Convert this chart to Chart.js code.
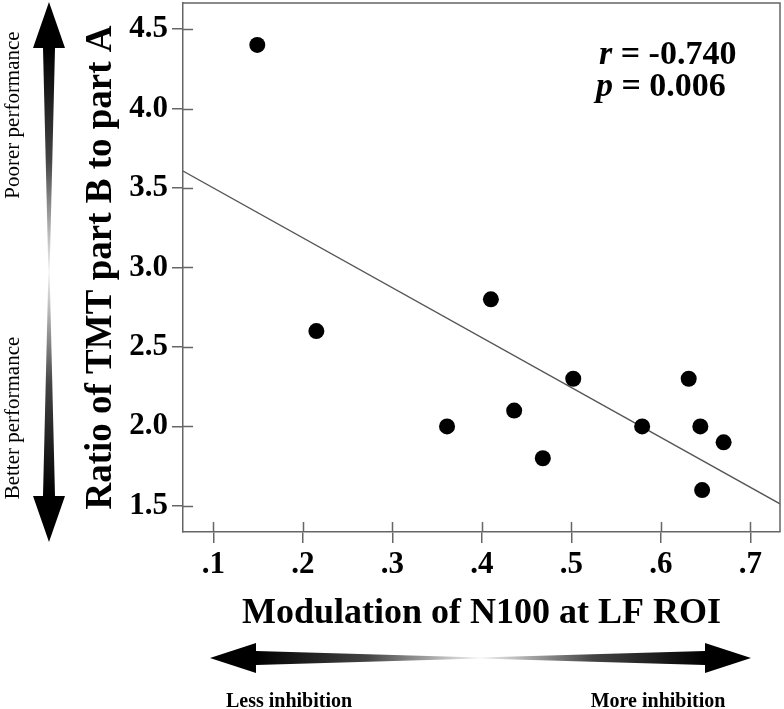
<!DOCTYPE html>
<html>
<head>
<meta charset="utf-8">
<script src="https://cdn.jsdelivr.net/npm/chart.js@4.4.0/dist/chart.umd.min.js"></script>
<style>
  html, body { margin: 0; padding: 0; background: #fff; }
  #wrap { width: 784px; height: 709px; }
</style>
</head>
<body>
<div id="wrap"><canvas id="chart" width="784" height="709"></canvas></div>
<script>
// values
const modulation = [0.149, 0.215, 0.361, 0.410, 0.436, 0.468, 0.502, 0.579, 0.631, 0.644, 0.646, 0.670];
const tmtRatio   = [4.40, 2.60, 2.00, 2.80, 2.10, 1.80, 2.30, 2.00, 2.30, 2.00, 1.60, 1.90];
const fitX = [0.066, 0.733];
const fitY = [3.607, 1.513];
const xTicks = [0.1, 0.2, 0.3, 0.4, 0.5, 0.6, 0.7];
const yTicks = [1.5, 2.0, 2.5, 3.0, 3.5, 4.0, 4.5];
const rValue = '-0.740';
const pValue = '0.006';

const serif = "'Liberation Serif', 'Times New Roman', serif";
const axisGrey = '#666';

// ticks in the original cross the axis line, so draw the inner half too
const innerTicks = {
  id: 'innerTicks',
  afterDraw(chart) {
    const {ctx, chartArea: a, scales: {x, y}} = chart;
    ctx.save();
    ctx.strokeStyle = axisGrey;
    ctx.lineWidth = 1.5;
    ctx.beginPath();
    xTicks.forEach(v => {
      const px = Math.round(x.getPixelForValue(v)) + 0.5;
      ctx.moveTo(px, a.bottom);
      ctx.lineTo(px, a.bottom - 10);
    });
    yTicks.forEach(v => {
      const py = Math.round(y.getPixelForValue(v)) + 0.5;
      ctx.moveTo(a.left, py);
      ctx.lineTo(a.left + 10, py);
    });
    // top and right frame
    ctx.moveTo(a.left, a.top);
    ctx.lineTo(a.right, a.top);
    ctx.lineTo(a.right, a.bottom);
    ctx.stroke();
    ctx.restore();
  }
};

function taper(ctx, pts, g) {
  ctx.fillStyle = g;
  ctx.beginPath();
  ctx.moveTo(pts[0][0], pts[0][1]);
  for (let i = 1; i < pts.length; i++) ctx.lineTo(pts[i][0], pts[i][1]);
  ctx.closePath();
  ctx.fill();
}

const extras = {
  id: 'extras',
  afterDraw(chart) {
    const ctx = chart.ctx;
    ctx.save();

    // vertical double arrow on the left
    const vx = 49, vTop = 2, vBot = 542, vMid = 272, hl = 46, hh = 16, sh = 6;
    taper(ctx, [[vx, vTop], [vx + hh, vTop + hl], [vx - hh, vTop + hl]], '#000');
    taper(ctx, [[vx, vBot], [vx + hh, vBot - hl], [vx - hh, vBot - hl]], '#000');
    let g = ctx.createLinearGradient(0, vTop + hl, 0, vMid);
    g.addColorStop(0, '#000'); g.addColorStop(0.5, '#444'); g.addColorStop(1, '#f4f4f4');
    taper(ctx, [[vx - sh, vTop + hl], [vx + sh, vTop + hl], [vx + 0.6, vMid], [vx - 0.6, vMid]], g);
    g = ctx.createLinearGradient(0, vBot - hl, 0, vMid);
    g.addColorStop(0, '#000'); g.addColorStop(0.5, '#444'); g.addColorStop(1, '#f4f4f4');
    taper(ctx, [[vx - sh, vBot - hl], [vx + sh, vBot - hl], [vx + 0.6, vMid], [vx - 0.6, vMid]], g);

    // horizontal double arrow under the x axis
    const hy = 658, hL = 210, hR = 751, hM = 480, al = 46, ah = 15, ash = 7;
    taper(ctx, [[hL, hy], [hL + al, hy - ah], [hL + al, hy + ah]], '#000');
    taper(ctx, [[hR, hy], [hR - al, hy - ah], [hR - al, hy + ah]], '#000');
    g = ctx.createLinearGradient(hL + al, 0, hM, 0);
    g.addColorStop(0, '#000'); g.addColorStop(0.5, '#444'); g.addColorStop(1, '#f4f4f4');
    taper(ctx, [[hL + al, hy - ash], [hM, hy - 0.6], [hM, hy + 0.6], [hL + al, hy + ash]], g);
    g = ctx.createLinearGradient(hR - al, 0, hM, 0);
    g.addColorStop(0, '#000'); g.addColorStop(0.5, '#444'); g.addColorStop(1, '#f4f4f4');
    taper(ctx, [[hR - al, hy - ash], [hM, hy - 0.6], [hM, hy + 0.6], [hR - al, hy + ash]], g);

    // side labels
    ctx.fillStyle = '#000';
    ctx.textAlign = 'center';
    ctx.textBaseline = 'middle';
    ctx.font = '21px ' + serif;
    [['Poorer performance', 115], ['Better performance', 418]].forEach(([t, cy]) => {
      ctx.save();
      ctx.translate(13, cy);
      ctx.rotate(-Math.PI / 2);
      ctx.fillText(t, 0, 0);
      ctx.restore();
    });
    ctx.font = 'bold 20px ' + serif;
    ctx.fillText('Less inhibition', 289, 702);
    ctx.fillText('More inhibition', 658, 702);

    // correlation stats
    ctx.textAlign = 'left';
    ctx.textBaseline = 'alphabetic';
    const lines = [['r', ' = ' + rValue, 64], ['p', ' = ' + pValue, 96]];
    lines.forEach(([sym, rest, base]) => {
      let x0 = sym === 'r' ? 599 : 596;
      ctx.font = 'italic bold 34px ' + serif;
      ctx.fillText(sym, x0, base);
      x0 += ctx.measureText(sym).width;
      ctx.font = 'bold 34px ' + serif;
      ctx.fillText(rest, x0, base);
    });
    ctx.restore();
  }
};

const ctx = document.getElementById('chart').getContext('2d');
const myChart = new Chart(ctx, {
  type: 'scatter',
  data: {
    datasets: [{
      data: modulation.map((m, i) => ({x: m, y: tmtRatio[i]})),
      backgroundColor: '#000',
      borderWidth: 0,
      pointRadius: 8,
      order: 1
    }, {
      type: 'line',
      data: fitX.map((m, i) => ({x: m, y: fitY[i]})),
      borderColor: '#555',
      borderWidth: 1.3,
      pointRadius: 0,
      fill: false,
      order: 2
    }]
  },
  options: {
    responsive: false,
    animation: false,
    events: [],
    layout: { autoPadding: false, padding: { left: 70, top: 3, right: 4, bottom: 74 } },
    plugins: { legend: { display: false }, tooltip: { enabled: false } },
    scales: {
      x: {
        type: 'linear',
        min: 0.066,
        max: 0.733,
        afterBuildTicks: s => { s.ticks = xTicks.map(v => ({value: v})); },
        afterFit: s => { s.height = 103; s.paddingLeft = 0; s.paddingRight = 0; },
        border: { color: axisGrey, width: 1.5 },
        grid: { drawOnChartArea: false, drawTicks: true, tickLength: 11, color: axisGrey, lineWidth: 1.5 },
        ticks: {
          color: '#000',
          padding: 3,
          maxRotation: 0,
          font: { family: serif, size: 31, weight: 'bold', lineHeight: 1.2 },
          callback: v => String(v).replace(/^0/, '')
        },
        title: {
          display: true,
          text: 'Modulation of N100 at LF ROI',
          color: '#000',
          padding: { top: 0, bottom: 0 },
          font: { family: serif, size: 36, weight: 'bold', lineHeight: 1.2 }
        }
      },
      y: {
        type: 'linear',
        min: 1.336,
        max: 4.664,
        afterBuildTicks: s => { s.ticks = yTicks.map(v => ({value: v})); },
        afterFit: s => { s.width = 113; s.paddingTop = 0; s.paddingBottom = 0; },
        border: { color: axisGrey, width: 1.5 },
        grid: { drawOnChartArea: false, drawTicks: true, tickLength: 11, color: axisGrey, lineWidth: 1.5 },
        ticks: {
          color: '#000',
          padding: 4,
          font: { family: serif, size: 31, weight: 'bold', lineHeight: 1.2 },
          callback: v => v.toFixed(1)
        },
        title: {
          display: true,
          text: 'Ratio of TMT part B to part A',
          color: '#000',
          padding: { top: 9, bottom: 0 },
          font: { family: serif, size: 37, weight: 'bold', lineHeight: 1.2 }
        }
      }
    }
  },
  plugins: [innerTicks, extras]
});
</script>
</body>
</html>
